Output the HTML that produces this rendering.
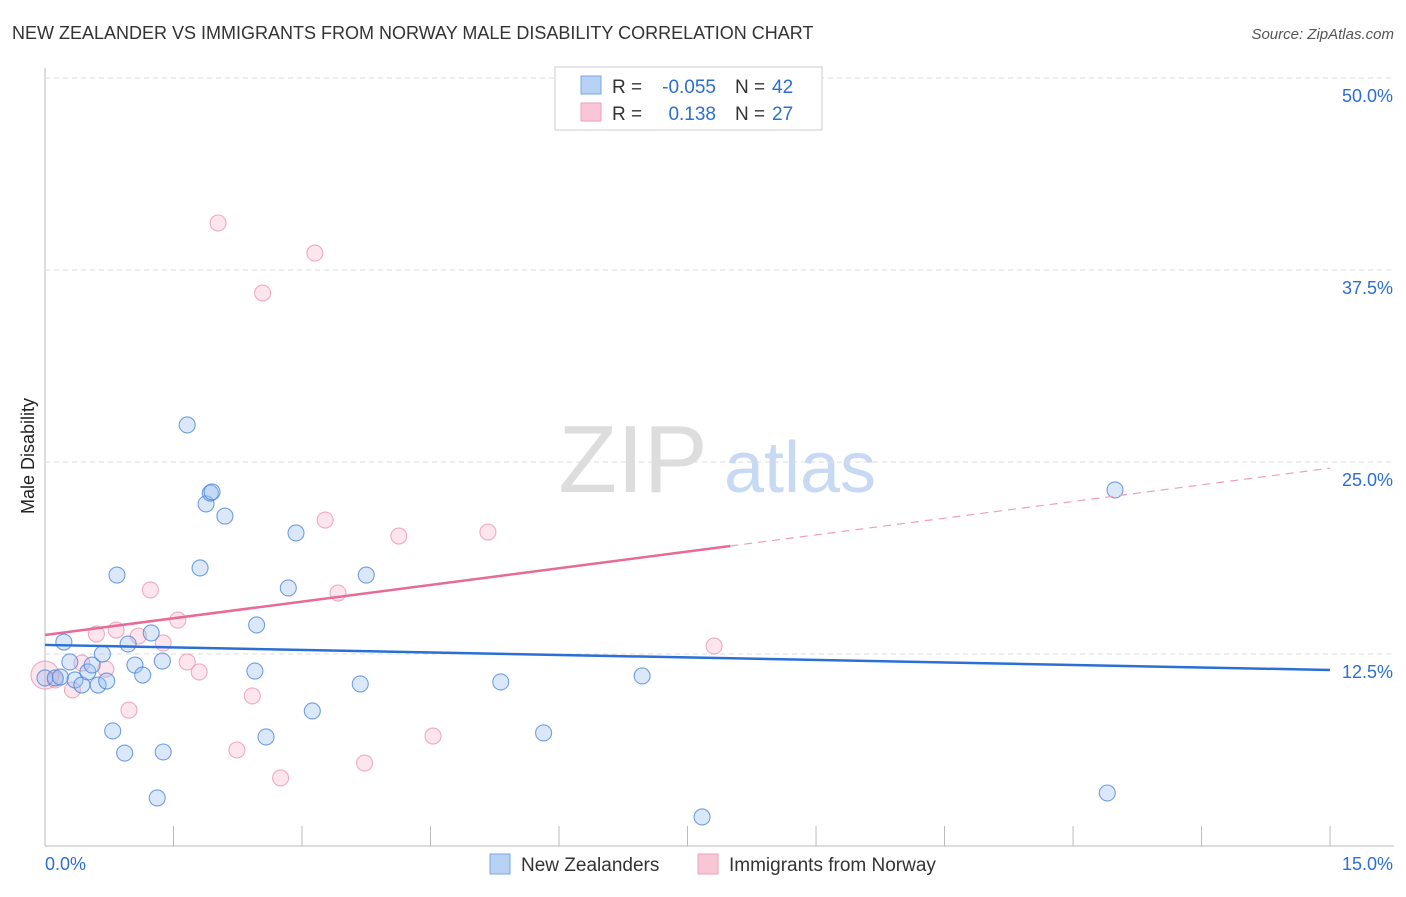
<!DOCTYPE html>
<html><head><meta charset="utf-8"><style>
body{margin:0;background:#fff;font-family:"Liberation Sans",sans-serif}
svg text{font-family:"Liberation Sans",sans-serif}
</style></head><body>
<svg id="c" width="1406" height="892">
<text x="12" y="39" font-size="18" fill="#333">NEW ZEALANDER VS IMMIGRANTS FROM NORWAY MALE DISABILITY CORRELATION CHART</text>
<text x="1394" y="39" font-size="15" fill="#555" font-style="italic" text-anchor="end">Source: ZipAtlas.com</text>
<text x="633" y="492" font-size="96" fill="#ddd" font-family="Liberation Serif" text-anchor="middle">ZIP</text>
<text x="800" y="492" font-size="72" fill="#c8daf3" text-anchor="middle">atlas</text>
<text x="34" y="456" font-size="18" fill="#222" transform="rotate(-90 34 456)" text-anchor="middle">Male Disability</text>
<g id="grid"></g><g id="pts"></g><g id="trend"></g>
<g>
<rect x="555" y="67" width="267" height="63" fill="#fff" stroke="#ccc"/>
<rect x="581" y="76" width="20" height="18" fill="#b8d2f5" stroke="#7aa7e3"/>
<rect x="581" y="103" width="20" height="18" fill="#f9c6d6" stroke="#eaa2bb"/>
<text x="612" y="93" font-size="19" fill="#333">R =</text>
<text x="716" y="93" font-size="19" fill="#2b6fd6" text-anchor="end">-0.055</text>
<text x="735" y="93" font-size="19" fill="#333">N =</text>
<text x="772" y="93" font-size="19" fill="#2b6fd6">42</text>
<text x="612" y="120" font-size="19" fill="#333">R =</text>
<text x="716" y="120" font-size="19" fill="#2b6fd6" text-anchor="end">0.138</text>
<text x="735" y="120" font-size="19" fill="#333">N =</text>
<text x="772" y="120" font-size="19" fill="#2b6fd6">27</text>
</g>
<g>
<rect x="490" y="854" width="20" height="20" fill="#b8d2f5" stroke="#7aa7e3"/>
<text x="521" y="871" font-size="19" fill="#333">New Zealanders</text>
<rect x="698" y="854" width="20" height="20" fill="#f9c6d6" stroke="#eaa2bb"/>
<text x="729" y="871" font-size="19" fill="#333">Immigrants from Norway</text>
</g>
</svg>
<script>
const yTicks=[12.5,25,37.5,50];
const yTickLabels=["12.5%","25.0%","37.5%","50.0%"];
const xLabels=["0.0%","15.0%"];
const blueX=[0,0.12,0.18,0.22,0.29,0.35,0.43,0.5,0.55,0.62,0.67,0.72,0.79,0.84,0.93,0.97,1.05,1.14,1.24,1.31,1.37,1.38,1.66,1.81,1.88,1.93,1.95,2.1,2.47,2.45,2.58,2.84,2.93,3.12,3.68,3.75,5.32,5.82,6.97,7.67,12.4,12.49];
const blueY=[10.94,10.94,11.0,13.28,11.98,10.81,10.48,11.33,11.78,10.48,12.5,10.74,7.49,17.64,6.05,13.15,11.78,11.13,13.87,3.13,12.04,6.12,27.41,18.1,22.27,22.98,23.05,21.48,14.39,11.39,7.1,16.8,20.38,8.79,10.55,17.64,10.68,7.36,11.07,1.89,3.45,23.18];
const pinkX=[0,0.12,0.32,0.43,0.6,0.71,0.83,0.98,1.09,1.23,1.38,1.55,1.66,1.8,2.02,2.24,2.42,2.54,2.75,3.15,3.27,3.42,3.73,4.13,4.53,5.17,7.81];
const pinkY=[11.13,10.81,10.16,11.91,13.8,11.52,14.06,8.85,13.67,16.67,13.22,14.71,11.98,11.33,40.56,6.25,9.77,36.0,4.43,38.6,21.22,16.47,5.4,20.18,7.16,20.44,13.02];
const blueTrend=[13.09,11.46];
const pinkTrend=[13.74,24.6];
const pinkSolidEnd=8.0;
const X=v=>45+v*85.67, Y=v=>846-v*15.36;
const NS="http://www.w3.org/2000/svg";
function mk(t,a,p){const e=document.createElementNS(NS,t);for(const k in a)e.setAttribute(k,a[k]);p.appendChild(e);return e;}
const g=document.getElementById('grid');
let ax=mk('line',{x1:45,y1:68,x2:45,y2:846,stroke:'#bbb'},g);


let bx=mk('line',{x1:45,y1:846,x2:1394,y2:846,stroke:'#bbb'},g);


for(let i=0;i<=10;i++){let t=mk('line',{x1:X(i*1.5),y1:826,x2:X(i*1.5),y2:846,stroke:'#bbb'},g);

}
yTicks.forEach((v,i)=>{let l=mk('line',{x1:45,y1:Y(v),x2:1394,y2:Y(v),stroke:'#ddd','stroke-dasharray':'5,4'},g);


let t=mk('text',{x:1393,y:Y(v)+24,'font-size':18,fill:'#2b6fd6','text-anchor':'end'},g);t.textContent=yTickLabels[i];

});
let xl0=mk('text',{x:45,y:870,'font-size':18,fill:'#2b6fd6'},g);xl0.textContent=xLabels[0];


let xl1=mk('text',{x:1393,y:870,'font-size':18,fill:'#2b6fd6','text-anchor':'end'},g);xl1.textContent=xLabels[1];


const p=document.getElementById('pts');
pinkX.forEach((x,i)=>{let c=mk('circle',{cx:X(x),cy:Y(pinkY[i]),r:i==0?14:8,fill:'rgba(244,170,195,0.3)',stroke:'rgba(232,140,170,0.7)','stroke-width':1.1},p);

});
blueX.forEach((x,i)=>{let c=mk('circle',{cx:X(x),cy:Y(blueY[i]),r:8,fill:'rgba(150,190,240,0.35)',stroke:'rgba(70,130,215,0.75)','stroke-width':1.1},p);

});
const tr=document.getElementById('trend');
let b=mk('line',{x1:X(0),y1:Y(blueTrend[0]),x2:X(15),y2:Y(blueTrend[1]),stroke:'#2b6fd6','stroke-width':2.5},tr);


const pm=pinkTrend[0]+(pinkTrend[1]-pinkTrend[0])*pinkSolidEnd/15;
let ps=mk('line',{x1:X(0),y1:Y(pinkTrend[0]),x2:X(pinkSolidEnd),y2:Y(pm),stroke:'#e86a95','stroke-width':2.5},tr);


let pd=mk('line',{x1:X(pinkSolidEnd),y1:Y(pm),x2:X(15),y2:Y(pinkTrend[1]),stroke:'#eea0b8','stroke-width':1.2,'stroke-dasharray':'8,6'},tr);


</script>
</body></html>
